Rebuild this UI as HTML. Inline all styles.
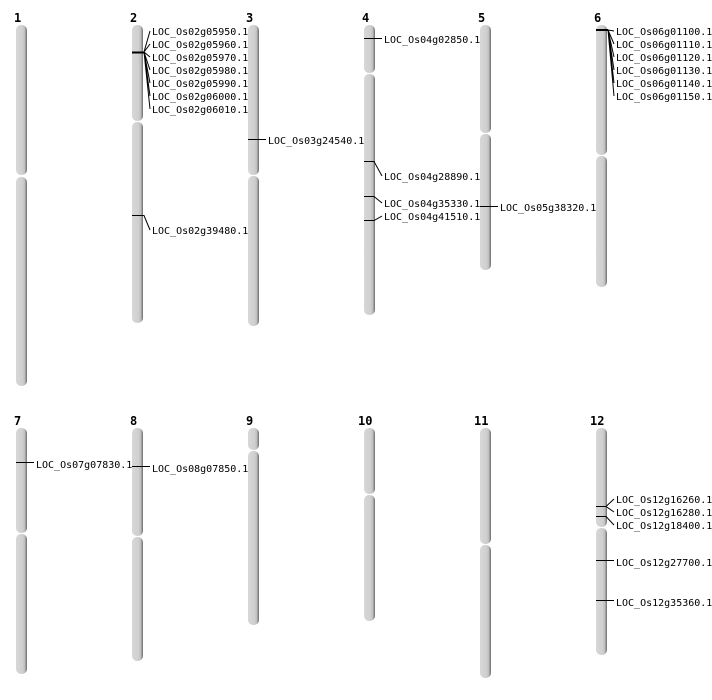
<!DOCTYPE html>
<html><head><meta charset="utf-8"><style>body{margin:0;background:#fff}svg{display:block}</style></head><body>
<svg width="712" height="700" xmlns="http://www.w3.org/2000/svg">
<defs><linearGradient id="g" x1="0" x2="1" y1="0" y2="0"><stop offset="0" stop-color="#d8d8d8"/><stop offset="0.6" stop-color="#cfcfcf"/><stop offset="0.8" stop-color="#bdbdbd"/><stop offset="1" stop-color="#6a6a6a"/></linearGradient></defs>
<g font-family="'DejaVu Sans Mono','Liberation Mono',monospace" font-size="12" font-weight="bold" fill="#000">
<text x="14" y="22">1</text><text x="130" y="22">2</text><text x="246" y="22">3</text><text x="362" y="22">4</text><text x="478" y="22">5</text><text x="594" y="22">6</text>
<text x="14" y="425">7</text><text x="130" y="425">8</text><text x="246" y="425">9</text><text x="358" y="425">10</text><text x="474" y="425">11</text><text x="590" y="425">12</text>
</g>
<g transform="translate(1,0)">
<g fill="url(#g)">
<rect x="15" y="25" width="11" height="150" rx="5"/><rect x="15" y="177" width="11" height="209" rx="5"/>
<rect x="131" y="25" width="11" height="96" rx="5"/><rect x="131" y="122" width="11" height="201" rx="5"/>
<rect x="247" y="25" width="11" height="150" rx="5"/><rect x="247" y="176" width="11" height="150" rx="5"/>
<rect x="363" y="25" width="11" height="48" rx="5"/><rect x="363" y="74" width="11" height="241" rx="5"/>
<rect x="479" y="25" width="11" height="108" rx="5"/><rect x="479" y="134" width="11" height="136" rx="5"/>
<rect x="595" y="25" width="11" height="130" rx="5"/><rect x="595" y="156" width="11" height="131" rx="5"/>
<rect x="15" y="428" width="11" height="105" rx="5"/><rect x="15" y="534" width="11" height="140" rx="5"/>
<rect x="131" y="428" width="11" height="108" rx="5"/><rect x="131" y="537" width="11" height="124" rx="5"/>
<rect x="247" y="428" width="11" height="22" rx="5"/><rect x="247" y="451" width="11" height="174" rx="5"/>
<rect x="363" y="428" width="11" height="66" rx="5"/><rect x="363" y="495" width="11" height="126" rx="5"/>
<rect x="479" y="428" width="11" height="116" rx="5"/><rect x="479" y="545" width="11" height="133" rx="5"/>
<rect x="595" y="428" width="11" height="99" rx="5"/><rect x="595" y="528" width="11" height="127" rx="5"/>
</g>
<g stroke="#000" stroke-width="1" fill="none">
<line x1="131" y1="52.5" x2="143" y2="52.5" stroke-width="2"/>
<path d="M143 52 L149 31 M143 52 L149 44 M143 52 L149 57 M143 52 L149 70 M143 52 L149 83 M143 52 L149 96 M143 52 L149 109"/>
<path d="M131 215.5 H143 L149 230"/>
<path d="M247 139.5 H265"/>
<path d="M363 38.5 H381"/>
<path d="M363 161.5 H373 L381 176"/>
<path d="M363 196.5 H373 L381 203"/>
<path d="M363 220.5 H373 L381 216"/>
<path d="M479 206.5 H497"/>
<line x1="595" y1="30" x2="607" y2="30" stroke-width="2"/>
<path d="M607 30 L613 31 M607 30 L613 44 M607 30 L613 57 M607 30 L613 70 M607 30 L613 83 M607 30 L613 96"/>
<path d="M15 462.5 H33"/>
<path d="M131 466.5 H149"/>
<path d="M595 506.5 H605 L613 499 M605 506.5 L613 512"/>
<path d="M595 516.5 H605 L613 525"/>
<path d="M595 560.5 H613"/>
<path d="M595 600.5 H613"/>
</g>
</g>
<g font-family="'DejaVu Sans Mono','Liberation Mono',monospace" font-size="10" fill="#000" dominant-baseline="middle" transform="translate(0,1)">
<text x="152" y="31">LOC_Os02g05950.1</text><text x="152" y="44">LOC_Os02g05960.1</text><text x="152" y="57">LOC_Os02g05970.1</text><text x="152" y="70">LOC_Os02g05980.1</text><text x="152" y="83">LOC_Os02g05990.1</text><text x="152" y="96">LOC_Os02g06000.1</text><text x="152" y="109">LOC_Os02g06010.1</text>
<text x="152" y="230">LOC_Os02g39480.1</text>
<text x="268" y="140">LOC_Os03g24540.1</text>
<text x="384" y="39">LOC_Os04g02850.1</text><text x="384" y="176">LOC_Os04g28890.1</text><text x="384" y="203">LOC_Os04g35330.1</text><text x="384" y="216">LOC_Os04g41510.1</text>
<text x="500" y="207">LOC_Os05g38320.1</text>
<text x="616" y="31">LOC_Os06g01100.1</text><text x="616" y="44">LOC_Os06g01110.1</text><text x="616" y="57">LOC_Os06g01120.1</text><text x="616" y="70">LOC_Os06g01130.1</text><text x="616" y="83">LOC_Os06g01140.1</text><text x="616" y="96">LOC_Os06g01150.1</text>
<text x="36" y="464">LOC_Os07g07830.1</text>
<text x="152" y="468">LOC_Os08g07850.1</text>
<text x="616" y="499">LOC_Os12g16260.1</text><text x="616" y="512">LOC_Os12g16280.1</text><text x="616" y="525">LOC_Os12g18400.1</text><text x="616" y="562">LOC_Os12g27700.1</text><text x="616" y="602">LOC_Os12g35360.1</text>
</g>
</svg>
</body></html>
